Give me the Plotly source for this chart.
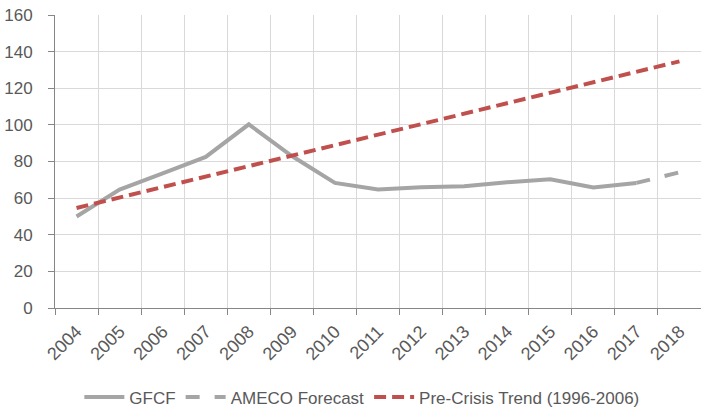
import plotly.graph_objects as go

years = [str(y) for y in range(2004, 2019)]
gfcf_years = years[:14]
gfcf = [50, 64.7, 73.5, 82.5, 100.3, 83, 68.3, 64.7, 66, 66.5, 68.7, 70.3, 65.8, 68.3]
ameco_years = ["2017", "2018"]
ameco = [68.3, 74.1]
trend = [54.6, 60.3, 66.0, 71.8, 77.5, 83.2, 88.9, 94.7, 100.4, 106.1, 111.8, 117.5, 123.3, 129.0, 134.7]

FONT = "Liberation Sans, Arial, sans-serif"
TXT = "#595959"

fig = go.Figure()
fig.add_trace(go.Scatter(x=gfcf_years, y=gfcf, mode="lines", name="GFCF",
                         line=dict(color="#A5A5A5", width=4)))
fig.add_trace(go.Scatter(x=ameco_years, y=ameco, mode="lines", name="AMECO Forecast",
                         line=dict(color="#A5A5A5", width=4, dash="14px,15px")))
fig.add_trace(go.Scatter(x=years, y=trend, mode="lines", name="Pre-Crisis Trend (1996-2006)",
                         line=dict(color="#C0504D", width=4, dash="12px,6px")))

fig.update_layout(
    width=701, height=416,
    margin=dict(l=55, r=0, t=15, b=106),
    paper_bgcolor="white", plot_bgcolor="white",
    font=dict(family=FONT, size=17, color=TXT),
    showlegend=True,
    legend=dict(orientation="h", x=0.475, xanchor="center", y=-0.305, yanchor="middle",
                font=dict(family=FONT, size=17, color=TXT), itemwidth=40,
                traceorder="normal"),
)
fig.update_xaxes(type="category", categoryorder="array", categoryarray=years,
                 range=[-0.5, 14.5], tickangle=-45, tickson="boundaries",
                 ticks="outside", ticklen=6, tickcolor="#868686", automargin=False,
                 ticklabelstandoff=5,
                 showline=True, linecolor="#868686", linewidth=1,
                 showgrid=True, gridcolor="#D9D9D9", gridwidth=1,
                 tickfont=dict(family=FONT, size=18, color=TXT))
fig.update_yaxes(range=[0, 160], dtick=20, ticks="outside", ticklen=6, tickcolor="#868686",
                 showline=True, linecolor="#868686", linewidth=1, automargin=False,
                 ticklabelstandoff=12, ticklabeloverflow="allow",
                 showgrid=True, gridcolor="#D9D9D9", gridwidth=1, zeroline=False,
                 tickfont=dict(family=FONT, size=17, color=TXT))

fig.write_html("out.html", config={"displayModeBar": False},
               post_script="document.body.style.margin='0px';document.body.style.overflow='hidden';")
